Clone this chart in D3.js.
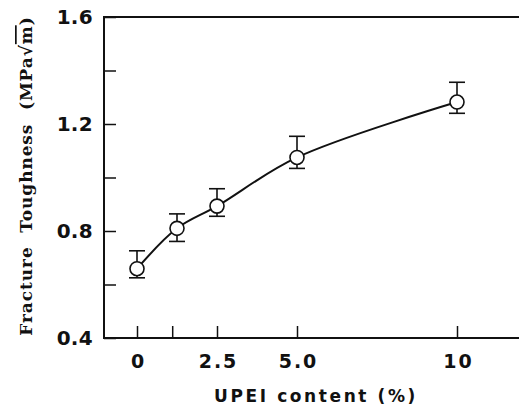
<!DOCTYPE html>
<html>
<head>
<meta charset="utf-8">
<script src="https://cdn.jsdelivr.net/npm/d3@7"></script>
<style>
  html, body { margin: 0; padding: 0; background: #fff; }
  svg { display: block; }
</style>
</head>
<body>
<svg id="chart" width="519" height="410"></svg>
<script>
// ---- data ----
const contentPct = [0, 1.25, 2.5, 5, 10];
const toughness = [0.659, 0.810, 0.893, 1.075, 1.282];
const errUpper = [0.726, 0.864, 0.958, 1.154, 1.356];
const errLower = [0.625, 0.761, 0.855, 1.034, 1.240];
const xTickValues = [0, 1.1, 2.5, 5, 10];
const xTickLabels = ["0", "", "2.5", "5.0", "10"];
const yTickValues = [0.4, 0.6, 0.8, 1.0, 1.2, 1.4, 1.6];
const yTickLabels = ["0.4", "", "0.8", "", "1.2", "", "1.6"];
const xTitle = "UPEI content (%)";
const yTitle = "Fracture  Toughness  (MPa√";
const yTitleTail = "m";

// ---- layout ----
const svg = d3.select("#chart");
const padL = 104, padT = 17, padB = 338, padR = 530;
const x = d3.scaleLinear().domain([0, 10]).range([137, 457]);
const y = d3.scaleLinear().domain([0.4, 1.6]).range([padB, padT]);
const ink = "#111";

// frame (top & left & bottom; right side beyond the view)
svg.append("path")
  .attr("d", `M${padR},${padT}H${padL}V${padB}H${padR}`)
  .attr("fill", "none").attr("stroke", ink).attr("stroke-width", 2);

// y axis
const yAxis = d3.axisLeft(y)
  .tickValues(yTickValues)
  .tickFormat((d, i) => yTickLabels[i])
  .tickSize(-12).tickSizeOuter(0).tickPadding(11);
const gy = svg.append("g").attr("transform", `translate(${padL},0)`).call(yAxis);
gy.select(".domain").remove();
gy.selectAll("line").attr("stroke", ink).attr("stroke-width", 1.5);
gy.selectAll("text")
  .attr("font-family", "'DejaVu Sans', sans-serif")
  .attr("font-weight", "bold").attr("font-size", 20)
  .attr("letter-spacing", 0.3).attr("fill", ink);

// x axis
const xAxis = d3.axisBottom(x)
  .tickValues(xTickValues)
  .tickFormat((d, i) => xTickLabels[i])
  .tickSize(-12).tickSizeOuter(0).tickPadding(17);
const gx = svg.append("g").attr("transform", `translate(0,${padB})`).call(xAxis);
gx.select(".domain").remove();
gx.selectAll("line").attr("stroke", ink).attr("stroke-width", 1.5);
gx.selectAll("text")
  .attr("font-family", "'DejaVu Sans', sans-serif")
  .attr("font-weight", "bold").attr("font-size", 19)
  .attr("letter-spacing", 2).attr("dx", 1).attr("fill", ink);

// fitted curve
const pts = contentPct.map((c, i) => [c, toughness[i]]);
svg.append("path")
  .datum(pts)
  .attr("fill", "none").attr("stroke", ink).attr("stroke-width", 2)
  .attr("d", d3.line().x(d => x(d[0])).y(d => y(d[1])).curve(d3.curveCatmullRom.alpha(0.5)));

// error bars
const eb = svg.append("g").attr("stroke", ink).attr("stroke-width", 1.6);
contentPct.forEach((c, i) => {
  const cx = x(c);
  eb.append("line").attr("x1", cx).attr("x2", cx).attr("y1", y(errUpper[i])).attr("y2", y(errLower[i]));
  eb.append("line").attr("x1", cx - 8).attr("x2", cx + 8).attr("y1", y(errUpper[i])).attr("y2", y(errUpper[i]));
  eb.append("line").attr("x1", cx - 8).attr("x2", cx + 8).attr("y1", y(errLower[i])).attr("y2", y(errLower[i]));
});

// markers
svg.append("g").selectAll("circle").data(pts).join("circle")
  .attr("cx", d => x(d[0])).attr("cy", d => y(d[1])).attr("r", 7)
  .attr("fill", "#fff").attr("stroke", ink).attr("stroke-width", 1.6);

// x title
svg.append("text")
  .attr("x", 316).attr("y", 402).attr("text-anchor", "middle")
  .attr("font-family", "'DejaVu Sans', sans-serif").attr("font-weight", "bold")
  .attr("font-size", 17).attr("letter-spacing", 2.6).attr("fill", ink)
  .text(xTitle);

// y title
const yt = svg.append("text")
  .attr("transform", "translate(32,176) rotate(-90)")
  .attr("text-anchor", "middle")
  .attr("font-family", "'DejaVu Serif', serif").attr("font-weight", "bold")
  .attr("font-size", 17).attr("letter-spacing", 0.9).attr("fill", ink)
  .style("white-space", "pre");
yt.append("tspan").text(yTitle);
yt.append("tspan").style("text-decoration", "overline").text(yTitleTail);
yt.append("tspan").text(")");
</script>
</body>
</html>
